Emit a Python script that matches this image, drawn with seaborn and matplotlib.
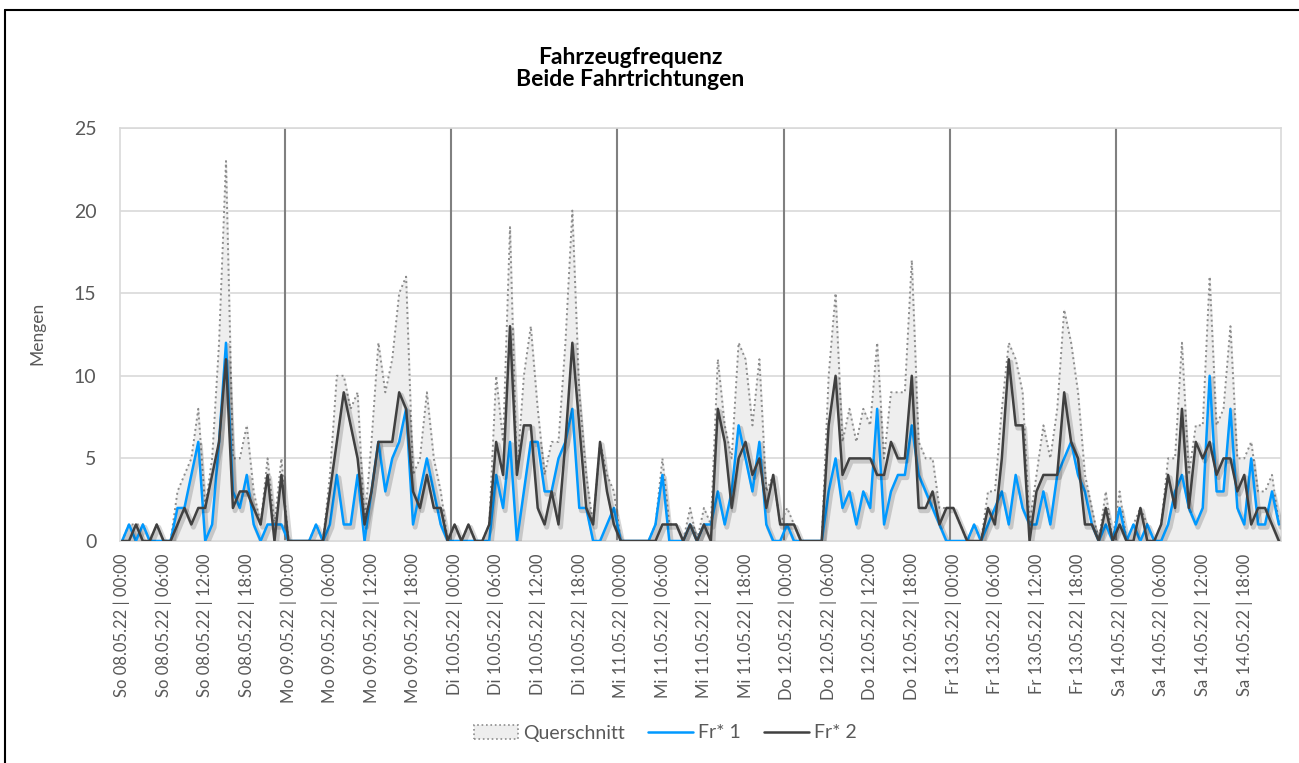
import matplotlib
matplotlib.use("Agg")
import matplotlib.pyplot as plt
import matplotlib.patheffects as pe
from matplotlib.lines import Line2D
from matplotlib.patches import Patch
import pandas as pd
import seaborn as sns

# Data (hourly counts, one row per day)
DAYS = ["So 08.05.22", "Mo 09.05.22", "Di 10.05.22", "Mi 11.05.22",
        "Do 12.05.22", "Fr 13.05.22", "Sa 14.05.22"]
TICK_HOURS = ["00:00", "06:00", "12:00", "18:00"]

FR1 = [
    0, 1, 0, 1, 0, 0, 0, 0, 2, 2, 4, 6, 0, 1, 6, 12, 3, 2, 4, 1, 0, 1, 1, 1,
    0, 0, 0, 0, 1, 0, 1, 4, 1, 1, 4, 0, 3, 6, 3, 5, 6, 8, 1, 3, 5, 3, 1, 0,
    0, 0, 0, 0, 0, 0, 4, 2, 6, 0, 3, 6, 6, 3, 3, 5, 6, 8, 2, 2, 0, 0, 1, 2,
    0, 0, 0, 0, 0, 1, 4, 0, 0, 0, 1, 0, 1, 1, 3, 1, 3, 7, 5, 3, 6, 1, 0, 0,
    1, 0, 0, 0, 0, 0, 3, 5, 2, 3, 1, 3, 2, 8, 1, 3, 4, 4, 7, 4, 3, 2, 1, 0,
    0, 0, 0, 1, 0, 1, 2, 3, 1, 4, 2, 1, 1, 3, 1, 4, 5, 6, 4, 3, 1, 0, 1, 0,
    2, 0, 1, 0, 1, 0, 0, 1, 3, 4, 2, 1, 2, 10, 3, 3, 8, 2, 1, 5, 1, 1, 3, 1,
]

FR2 = [
    0, 0, 1, 0, 0, 1, 0, 0, 1, 2, 1, 2, 2, 4, 6, 11, 2, 3, 3, 2, 1, 4, 0, 4,
    0, 0, 0, 0, 0, 0, 3, 6, 9, 7, 5, 1, 3, 6, 6, 6, 9, 8, 3, 2, 4, 2, 2, 0,
    1, 0, 1, 0, 0, 1, 6, 4, 13, 4, 7, 7, 2, 1, 3, 1, 6, 12, 7, 2, 1, 6, 3, 1,
    0, 0, 0, 0, 0, 0, 1, 1, 1, 0, 1, 0, 1, 0, 8, 6, 2, 5, 6, 4, 5, 2, 4, 1,
    1, 1, 0, 0, 0, 0, 7, 10, 4, 5, 5, 5, 5, 4, 4, 6, 5, 5, 10, 2, 2, 3, 1, 2,
    2, 1, 0, 0, 0, 2, 1, 5, 11, 7, 7, 0, 3, 4, 4, 4, 9, 6, 5, 1, 1, 0, 2, 0,
    1, 0, 0, 2, 0, 0, 1, 4, 2, 8, 2, 6, 5, 6, 4, 5, 5, 3, 4, 1, 2, 2, 1, 0,
]

QUERSCHNITT = [
    0, 1, 1, 1, 0, 1, 0, 0, 3, 4, 5, 8, 2, 5, 12, 23, 5, 5, 7, 3, 1, 5, 1, 5,
    0, 0, 0, 0, 1, 0, 4, 10, 10, 8, 9, 1, 6, 12, 9, 11, 15, 16, 4, 5, 9, 5, 3, 0,
    1, 0, 1, 0, 0, 1, 10, 6, 19, 4, 10, 13, 8, 4, 6, 6, 12, 20, 9, 4, 1, 6, 4, 3,
    0, 0, 0, 0, 0, 1, 5, 1, 1, 0, 2, 0, 2, 1, 11, 7, 5, 12, 11, 7, 11, 3, 4, 1,
    2, 1, 0, 0, 0, 0, 10, 15, 6, 8, 6, 8, 7, 12, 5, 9, 9, 9, 17, 6, 5, 5, 2, 2,
    2, 1, 0, 1, 0, 3, 3, 8, 12, 11, 9, 1, 4, 7, 5, 8, 14, 12, 9, 4, 2, 0, 3, 0,
    3, 0, 1, 2, 1, 0, 1, 5, 5, 12, 4, 7, 7, 16, 7, 8, 13, 5, 5, 6, 3, 3, 4, 1,
]

C_FR1 = "#0099ff"
C_FR2 = "#404040"
C_QS_EDGE = "#8c8c8c"
C_QS_FILL = "#eeeeee"
C_TEXT = "#595959"
C_GRID = "#d9d9d9"

sns.set_theme(style="whitegrid")
plt.rcParams["font.family"] = ["Lato", "DejaVu Sans"]

df = pd.DataFrame({
    "idx": range(len(FR1)),
    "Querschnitt": QUERSCHNITT,
    "Fr* 1": FR1,
    "Fr* 2": FR2,
})

fig = plt.figure(figsize=(12.99, 7.63), dpi=100)
ax = fig.add_axes([120 / 1299, 222 / 763, 1161 / 1299, 413 / 763])
ax.set_facecolor("white")

shadow = [pe.SimpleLineShadow(offset=(1.5, -2), shadow_color="black", alpha=0.16, linewidth=3.5),
          pe.Normal()]

# Querschnitt as filled area with dotted edge
ax.fill_between(df["idx"], df["Querschnitt"], color=C_QS_FILL, zorder=1)
sns.lineplot(data=df, x="idx", y="Querschnitt", ax=ax, color=C_QS_EDGE,
             linestyle=":", linewidth=1.4, legend=False, zorder=2)

# day separators
for k in range(1, len(DAYS)):
    ax.axvline(24 * k - 0.5, color="#808080", linewidth=1.5, zorder=2.5)

sns.lineplot(data=df, x="idx", y="Fr* 1", ax=ax, color=C_FR1,
             linewidth=1.8, legend=False, zorder=3)
sns.lineplot(data=df, x="idx", y="Fr* 2", ax=ax, color=C_FR2,
             linewidth=1.8, legend=False, zorder=4)
for ln in ax.lines[-2:]:
    ln.set_path_effects(shadow)

# axes styling
ax.set_xlim(-0.3, len(FR1) - 0.7)
ax.set_ylim(0, 25)
ax.set_yticks(range(0, 26, 5))
ticks = list(range(0, len(FR1), 6))
labels = [f"{d} | {h}" for d in DAYS for h in TICK_HOURS]
ax.set_xticks(ticks)
ax.set_xticklabels(labels, rotation=90)
ax.set_xlabel("")
ax.set_ylabel("")
ax.grid(axis="x", visible=False)
ax.grid(axis="y", color=C_GRID, linewidth=1.2)
for s in ax.spines.values():
    s.set_color(C_GRID)
    s.set_linewidth(1.2)
ax.tick_params(axis="x", length=0, pad=9, labelsize=12, labelcolor=C_TEXT)
ax.tick_params(axis="y", length=0, pad=17, labelsize=14, labelcolor=C_TEXT)

# titles and labels
fig.text(630 / 1299, 1 - 57 / 763, "Fahrzeugfrequenz", ha="center", va="center",
         fontsize=16.5, fontweight="bold", color="black")
fig.text(630 / 1299, 1 - 80 / 763, "Beide Fahrtrichtungen", ha="center", va="center",
         fontsize=16.5, fontweight="bold", color="black")
fig.text(37 / 1299, 1 - 333 / 763, "Mengen", rotation=90, ha="center", va="center",
         fontsize=12.5, color=C_TEXT)

handles = [
    Patch(facecolor=C_QS_FILL, edgecolor=C_QS_EDGE, linestyle=":", linewidth=1.2),
    Line2D([0], [0], color=C_FR1, linewidth=1.8),
    Line2D([0], [0], color=C_FR2, linewidth=1.8),
]
leg = fig.legend(handles, ["Querschnitt", "Fr* 1", "Fr* 2"], loc="center",
                 bbox_to_anchor=(665 / 1299, 1 - 733 / 763), ncol=3, frameon=False,
                 fontsize=14, handlelength=2.3, handleheight=0.7, handletextpad=0.25,
                 columnspacing=1.2)
for t in leg.get_texts():
    t.set_color(C_TEXT)

# outer chart border (left and top visible)
fig.add_artist(Line2D([5 / 1299, 5 / 1299], [0, 1 - 10 / 763], transform=fig.transFigure,
                      color="black", linewidth=1.5))
fig.add_artist(Line2D([5 / 1299, 1], [1 - 10 / 763, 1 - 10 / 763], transform=fig.transFigure,
                      color="black", linewidth=1.5))

fig.savefig("out.png", dpi=100, facecolor="white")
